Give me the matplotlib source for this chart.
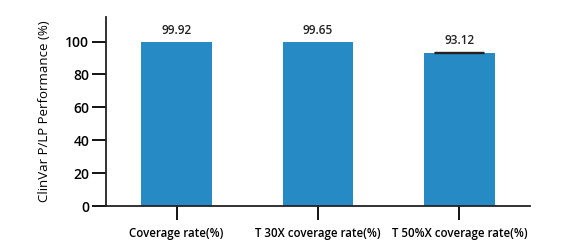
import matplotlib.pyplot as plt

categories = ["Coverage rate(%)", "T 30X coverage rate(%)", "T 50%X coverage rate(%)"]
values = [99.92, 99.65, 93.12]
errors = [0.0, 0.0, 0.6]
yticks = [0, 20, 40, 60, 80, 100]

plt.rcParams['font.family'] = ['Open Sans', 'DejaVu Sans']
plt.rcParams['font.weight'] = 'semibold'

fig = plt.figure(figsize=(5.84, 2.45), dpi=100)
ax = fig.add_axes([0.1815, 0.159, 0.726, 0.772])

x = range(len(categories))
ax.bar(x, values, width=0.5, color="#268BC5", zorder=2)
ax.errorbar([2], [values[2]], yerr=[[0], [errors[2]]], fmt='none',
            ecolor="#222222", elinewidth=1, capsize=18, capthick=1, zorder=3)

for i, v in enumerate(values):
    ax.text(i, v + errors[i] + 3, f"{v:.2f}", ha='center', va='bottom',
            fontsize=8.5, color="#222222")

ax.set_xlim(-0.5, 2.5)
ax.set_ylim(0, 115)
ax.set_yticks(yticks)
ax.set_xticks(list(x))
ax.set_xticklabels(categories, fontsize=8.3)
ax.tick_params(axis='y', labelsize=10, length=10, width=1.3, direction='out', pad=2)
ax.tick_params(axis='x', length=10, width=1.3, direction='out', pad=5)
ax.set_ylabel("ClinVar P/LP Performance (%)", fontsize=9.5, labelpad=10)

for s in ['top', 'right']:
    ax.spines[s].set_visible(False)
for s in ['left', 'bottom']:
    ax.spines[s].set_linewidth(1.3)
    ax.spines[s].set_color("#222222")

fig.savefig("out.png", dpi=100)
